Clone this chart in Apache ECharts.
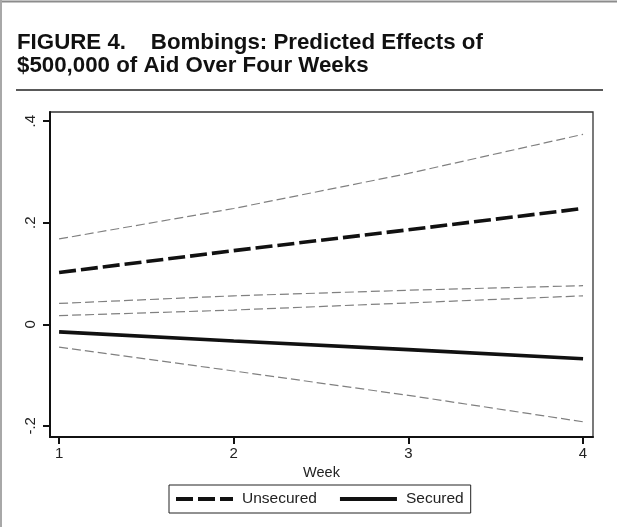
<!DOCTYPE html>
<html>
<head>
<meta charset="utf-8">
<style>
  html, body { margin: 0; padding: 0; background: #fff; }
  #chart { width: 617px; height: 527px; }
</style>
<script src="https://cdn.jsdelivr.net/npm/echarts@6/dist/echarts.min.js"></script>
</head>
<body>
<div id="chart"></div>
<script>
// Predicted effect of $500,000 of aid on bombings, weeks 1-4
const weeks = [1, 2, 3, 4];
const unsecured = [0.102, 0.145, 0.186, 0.228];
const unsecuredUpper = [0.168, 0.228, 0.297, 0.374];
const unsecuredLower = [0.041, 0.056, 0.067, 0.076];
const secured = [-0.015, -0.033, -0.050, -0.068];
const securedUpper = [0.017, 0.028, 0.042, 0.056];
const securedLower = [-0.045, -0.092, -0.140, -0.192];
const xTicks = [1, 2, 3, 4];
const yTicks = [-0.2, 0, 0.2, 0.4];
const yTickLabels = ['-.2', '0', '.2', '.4'];

const pairs = ys => weeks.map((w, i) => [w, ys[i]]);
const FONT = 'Liberation Sans, Arial, Helvetica, sans-serif';

const ciStyle = { color: '#808080', width: 1.2, type: [9, 4] };
const ciSeries = (name, ys) => ({
  name, type: 'line', data: pairs(ys), symbol: 'none', silent: true,
  lineStyle: ciStyle, z: 2
});

// legend keys: long-dash and solid bars
const DASH_ICON = 'path://M0,0h17v4h-17zM22,0h17v4h-17zM44,0h13v4h-13z';
const SOLID_ICON = 'path://M0,0h57v4h-57z';

const chart = echarts.init(document.getElementById('chart'), null, { renderer: 'canvas' });
chart.setOption({
  animation: false,
  backgroundColor: '#fff',
  title: {
    text: 'FIGURE 4.    Bombings: Predicted Effects of\n$500,000 of Aid Over Four Weeks',
    left: 12, top: 26,
    textStyle: { fontFamily: FONT, fontWeight: 'bold', fontSize: 22.3, lineHeight: 23, color: '#111' }
  },
  graphic: [
    { type: 'line', shape: { x1: 0, y1: 1.5, x2: 617, y2: 1.5 }, style: { stroke: '#8c8c8c', lineWidth: 2 } },
    { type: 'line', shape: { x1: 1, y1: 0, x2: 1, y2: 527 }, style: { stroke: '#a8a8a8', lineWidth: 2 } },
    { type: 'line', shape: { x1: 16, y1: 90, x2: 603, y2: 90 }, style: { stroke: '#222', lineWidth: 1.5 } }
  ],
  grid: {
    left: 50, right: 24, top: 112, bottom: 90,
    show: true, borderColor: '#333', borderWidth: 1.3, backgroundColor: '#fff'
  },
  legend: {
    data: [
      { name: 'Unsecured', icon: DASH_ICON },
      { name: 'Secured', icon: SOLID_ICON }
    ],
    left: 169, top: 485,
    itemWidth: 57, itemHeight: 4, itemGap: 23,
    padding: [6, 7, 6, 7],
    borderColor: '#222', borderWidth: 1,
    itemStyle: { color: '#111' },
    textStyle: { fontFamily: FONT, fontSize: 15.5, color: '#222', padding: [0, 0, 0, 4] },
    selectedMode: false
  },
  xAxis: {
    type: 'value', min: 0.948, max: 4.057,
    name: 'Week', nameLocation: 'middle', nameGap: 25,
    nameTextStyle: { fontFamily: FONT, fontSize: 14.5, color: '#222' },
    axisLine: { show: true, onZero: false, lineStyle: { color: '#111', width: 2 } },
    axisTick: { show: true, length: 7, lineStyle: { color: '#111', width: 2 }, customValues: xTicks },
    axisLabel: { fontFamily: FONT, fontSize: 15, color: '#222', margin: 9, customValues: xTicks },
    splitLine: { show: false }
  },
  yAxis: {
    type: 'value', min: -0.222, max: 0.418,
    axisLine: { show: true, onZero: false, lineStyle: { color: '#111', width: 2 } },
    axisTick: { show: true, length: 7, lineStyle: { color: '#111', width: 2 }, customValues: yTicks },
    axisLabel: {
      fontFamily: FONT, fontSize: 15, color: '#222', margin: 12, rotate: 90,
      customValues: yTicks,
      formatter: v => {
        const i = yTicks.findIndex(t => Math.abs(t - v) < 1e-9);
        return i >= 0 ? yTickLabels[i] : '';
      }
    },
    splitLine: { show: false }
  },
  series: [
    ciSeries('Unsecured upper', unsecuredUpper),
    ciSeries('Unsecured lower', unsecuredLower),
    ciSeries('Secured upper', securedUpper),
    ciSeries('Secured lower', securedLower),
    {
      name: 'Unsecured', type: 'line', data: pairs(unsecured), symbol: 'none',
      lineStyle: { color: '#111', width: 3.6, type: [17, 5] }, itemStyle: { color: '#111' }, z: 3
    },
    {
      name: 'Secured', type: 'line', data: pairs(secured), symbol: 'none',
      lineStyle: { color: '#111', width: 3.6, type: 'solid' }, itemStyle: { color: '#111' }, z: 3
    }
  ]
});
</script>
</body>
</html>
